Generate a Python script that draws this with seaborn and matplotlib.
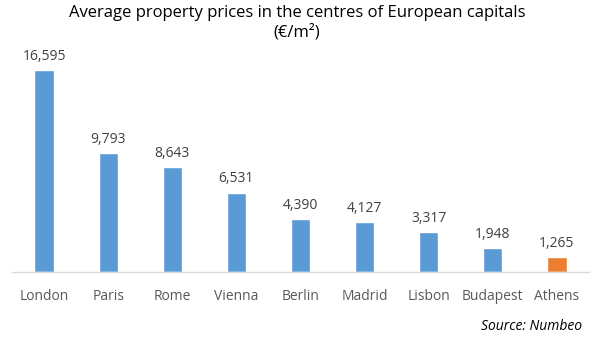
import matplotlib
matplotlib.use("Agg")
import matplotlib.pyplot as plt
import seaborn as sns
import pandas as pd

cities = ["London", "Paris", "Rome", "Vienna", "Berlin", "Madrid", "Lisbon", "Budapest", "Athens"]
prices = [16595, 9793, 8643, 6531, 4390, 4127, 3317, 1948, 1265]
highlight = "Athens"

blue = "#5B9BD5"
orange = "#ED7D31"
text_col = "#595959"

sns.set_theme(style="white")
plt.rcParams["font.family"] = ["Open Sans", "DejaVu Sans"]

df = pd.DataFrame({"city": cities, "price": prices})
palette = {c: (orange if c == highlight else blue) for c in cities}

fig = plt.figure(figsize=(5.94, 3.40), dpi=100)
ax = fig.add_axes([12 / 594, 1 - 272 / 340, 577 / 594, 219 / 340])

sns.barplot(data=df, x="city", y="price", hue="city", palette=palette,
            width=0.3, legend=False, ax=ax, saturation=1)

ax.set_ylim(0, 18000)
ax.set_xlim(-0.5, len(cities) - 0.5)
ax.set_xlabel("")
ax.set_ylabel("")
ax.set_yticks([])
for s in ["top", "right", "left"]:
    ax.spines[s].set_visible(False)
ax.spines["bottom"].set_color("#D9D9D9")
ax.spines["bottom"].set_linewidth(1)
ax.tick_params(axis="x", length=0, pad=12, labelsize=10, labelcolor=text_col)

for i, v in enumerate(prices):
    ax.text(i, v + 500, f"{v:,}", ha="center", va="bottom", fontsize=10, color="#404040")

fig.text(0.5, 1 - 13 / 340, "Average property prices in the centres of European capitals",
         ha="center", va="center", fontsize=12, color="#000000")
fig.text(0.5, 1 - 32 / 340, "(€/m²)", ha="center", va="center", fontsize=12, color="#000000")
fig.text(582 / 594, 1 - 326 / 340, "Source: Numbeo", ha="right", va="center",
         fontsize=10, style="italic", color="#000000")

fig.savefig("out.png", dpi=100)
